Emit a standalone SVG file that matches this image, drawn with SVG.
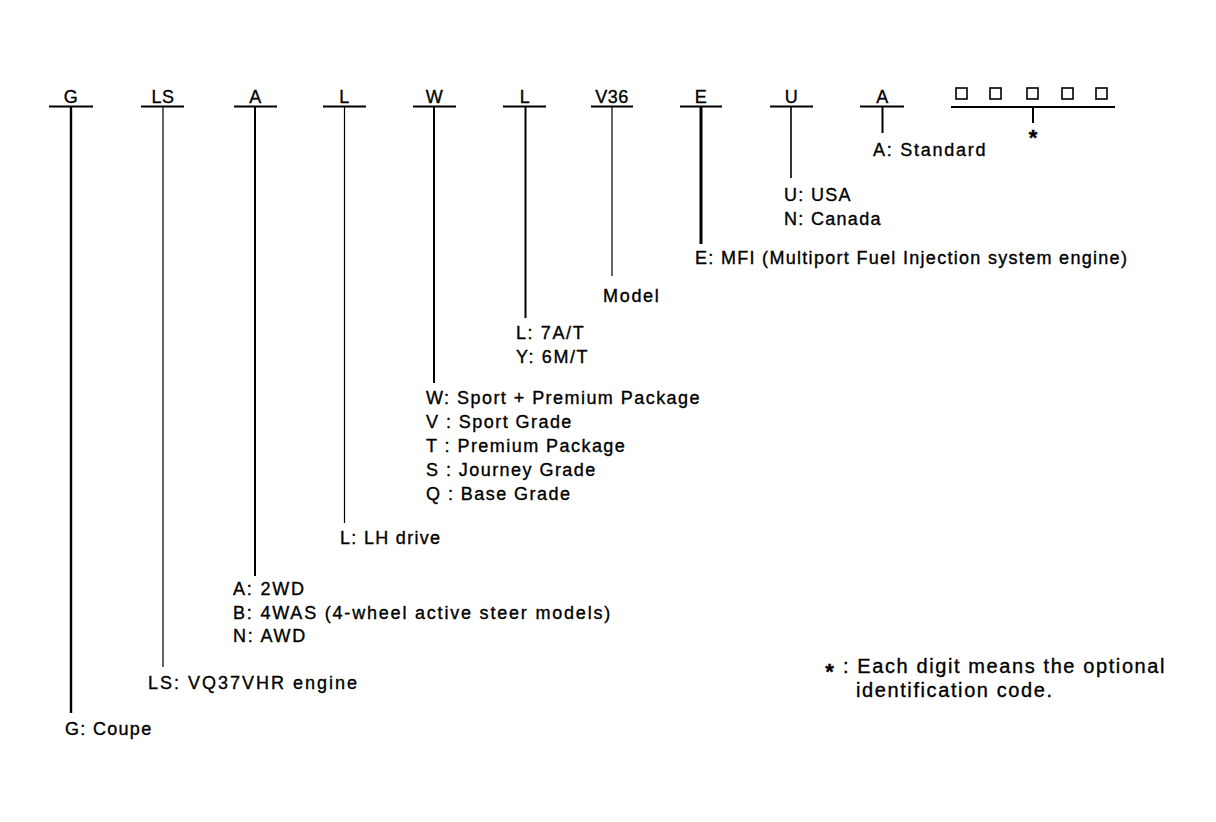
<svg xmlns="http://www.w3.org/2000/svg" width="1216" height="822" viewBox="0 0 1216 822">
<style>
text{font-family:"Liberation Sans",Arial,sans-serif;font-size:18px;fill:#000;stroke:#000;stroke-width:0.35;letter-spacing:1.3px}
.hd{text-anchor:middle;letter-spacing:0.5px}
.ul{stroke:#000;stroke-width:2;fill:none}
.ln{stroke:#000;fill:none}
.bx{stroke:#000;stroke-width:1.6;fill:#fff}
.st{font-size:22px;font-weight:bold;text-anchor:middle;letter-spacing:0}
.wd{letter-spacing:1.8px}
.fn{font-size:20px;letter-spacing:1.6px}
</style>
<rect width="1216" height="822" fill="#fff"/>
<g id="connectors">
<line class="ln" x1="71" y1="106" x2="71" y2="713" stroke-width="2.4"/>
<line class="ln" x1="163" y1="106" x2="163" y2="667" stroke-width="1.2"/>
<line class="ln" x1="255" y1="106" x2="255" y2="576" stroke-width="2"/>
<line class="ln" x1="344.5" y1="106" x2="344.5" y2="523" stroke-width="1.2"/>
<line class="ln" x1="434" y1="106" x2="434" y2="383" stroke-width="2"/>
<line class="ln" x1="525.5" y1="106" x2="525.5" y2="318" stroke-width="2"/>
<line class="ln" x1="612" y1="106" x2="612" y2="276" stroke-width="1.2"/>
<line class="ln" x1="701" y1="106" x2="701" y2="244" stroke-width="3"/>
<line class="ln" x1="791" y1="106" x2="791" y2="178" stroke-width="1.6"/>
<line class="ln" x1="882.5" y1="106" x2="882.5" y2="133" stroke-width="2"/>
<line class="ln" x1="1033" y1="106" x2="1033" y2="123" stroke-width="2"/>
</g>
<g id="node-g">
<text class="hd" x="71" y="103">G</text>
<line class="ul" x1="49" y1="106.5" x2="93" y2="106.5"/>
<text x="65" y="735">G: Coupe</text>
</g>
<g id="node-ls">
<text class="hd" x="163" y="103">LS</text>
<line class="ul" x1="141" y1="106.5" x2="184" y2="106.5"/>
<text x="148" y="689" style="letter-spacing:2px">LS: VQ37VHR engine</text>
</g>
<g id="node-a">
<text class="hd" x="255.5" y="103">A</text>
<line class="ul" x1="234" y1="106.5" x2="277" y2="106.5"/>
<text class="wd" x="233" y="595">A: 2WD</text>
<text class="wd" x="233" y="618.5">B: 4WAS (4-wheel active steer models)</text>
<text class="wd" x="233" y="642">N: AWD</text>
</g>
<g id="node-l">
<text class="hd" x="344.5" y="103">L</text>
<line class="ul" x1="323" y1="106.5" x2="366" y2="106.5"/>
<text x="340" y="544">L: LH drive</text>
</g>
<g id="node-w">
<text class="hd" x="434.5" y="103">W</text>
<line class="ul" x1="413" y1="106.5" x2="456" y2="106.5"/>
<text x="426" y="404" style="letter-spacing:1.45px">W: Sport + Premium Package</text>
<text x="426" y="428" style="letter-spacing:1.45px">V : Sport Grade</text>
<text x="426" y="452" style="letter-spacing:1.45px">T : Premium Package</text>
<text x="426" y="476" style="letter-spacing:1.45px">S : Journey Grade</text>
<text x="426" y="500" style="letter-spacing:1.45px">Q : Base Grade</text>
</g>
<g id="node-l2">
<text class="hd" x="525" y="103">L</text>
<line class="ul" x1="503" y1="106.5" x2="546" y2="106.5"/>
<text x="516" y="339" style="letter-spacing:1.6px">L: 7A/T</text>
<text x="516" y="362.5" style="letter-spacing:1.6px">Y: 6M/T</text>
</g>
<g id="node-v36">
<text class="hd" x="612" y="103">V36</text>
<line class="ul" x1="591" y1="106.5" x2="633" y2="106.5"/>
<text x="603" y="302" style="letter-spacing:1.7px">Model</text>
</g>
<g id="node-e">
<text class="hd" x="701" y="103">E</text>
<line class="ul" x1="680" y1="106.5" x2="722" y2="106.5"/>
<text x="695" y="264" style="letter-spacing:1.3px">E: MFI (Multiport Fuel Injection system engine)</text>
</g>
<g id="node-u">
<text class="hd" x="791.5" y="103">U</text>
<line class="ul" x1="770" y1="106.5" x2="813" y2="106.5"/>
<text x="784" y="201">U: USA</text>
<text x="784" y="224.5">N: Canada</text>
</g>
<g id="node-a2">
<text class="hd" x="882.5" y="103">A</text>
<line class="ul" x1="860" y1="106.5" x2="904" y2="106.5"/>
<text x="873" y="156" style="letter-spacing:1.75px">A: Standard</text>
</g>
<g id="node-optional">
<rect class="bx" x="956" y="88" width="11" height="11"/>
<rect class="bx" x="990" y="88" width="11" height="11"/>
<rect class="bx" x="1027" y="88" width="11" height="11"/>
<rect class="bx" x="1062" y="88" width="11" height="11"/>
<rect class="bx" x="1096" y="88" width="11" height="11"/>
<line class="ul" x1="951" y1="107" x2="1115" y2="107"/>
<text class="st" x="1033" y="145">*</text>
</g>
<g id="footnote">
<text class="st" x="829.5" y="679">*</text>
<text class="fn" x="843" y="673">: Each digit means the optional</text>
<text class="fn" x="856" y="697">identification code.</text>
</g>
</svg>
